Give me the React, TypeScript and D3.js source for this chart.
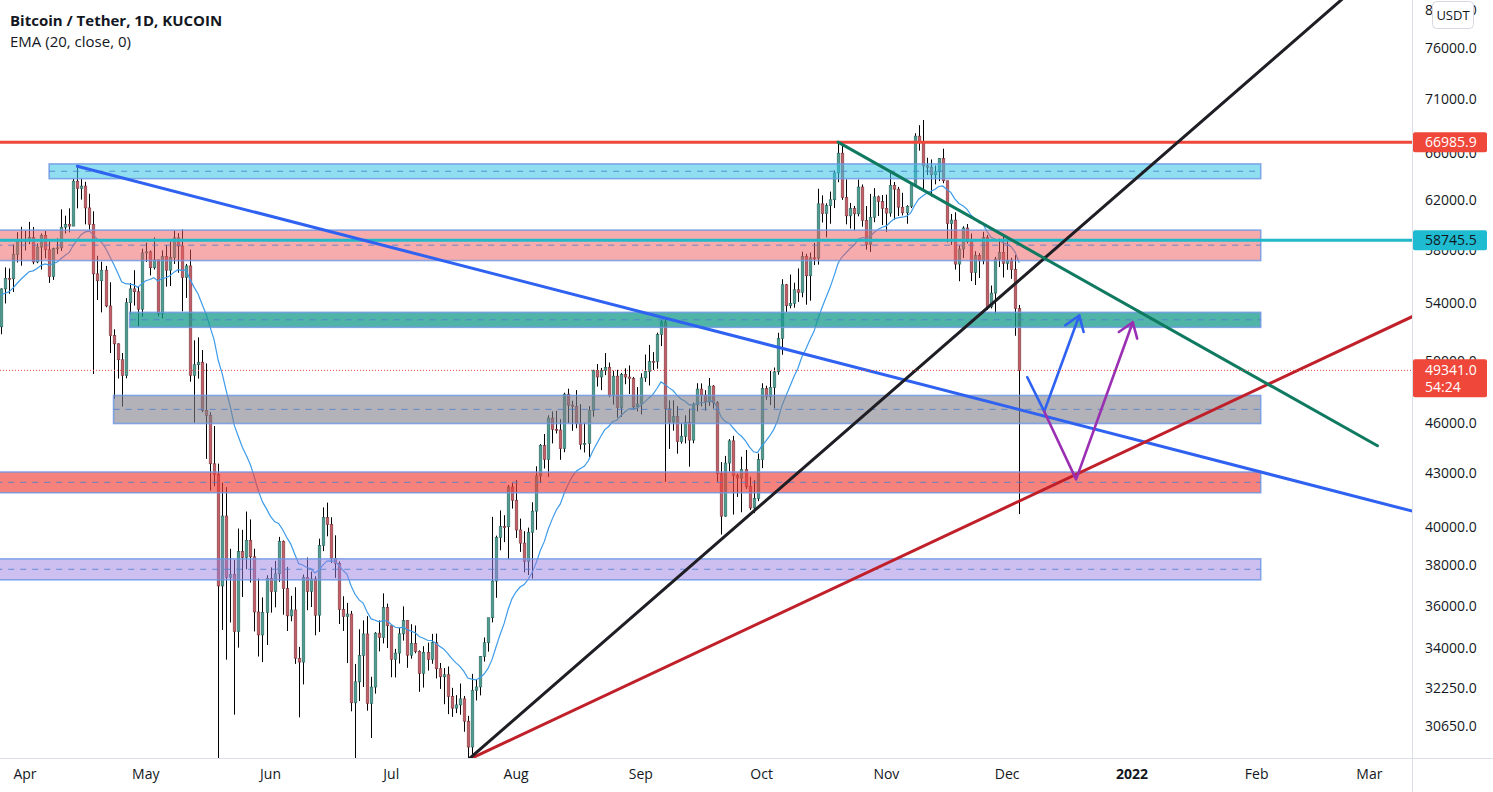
import React, { useEffect, useRef } from 'react';
import * as d3 from 'd3';

const W = 1493;
const H = 792;
const PLOT_R = 1412;
const PLOT_B = 758;
const FONT = '"Open Sans", "Liberation Sans", sans-serif';

// daily candles [open, high, low, close], first day 2021-03-26
const firstDay = '2021-03-26';
const mar21 = [
  [52303, 55073, 51787, 55031], [55031, 56640, 53967, 55820], [55820, 56559, 54677, 55777],
  [55777, 58405, 54800, 57628], [57628, 59368, 57011, 58730], [58730, 59800, 56769, 58741],
];
const apr21 = [
  [58741, 59490, 57935, 58720], [58720, 60200, 58428, 58950], [58950, 59791, 56880, 57051],
  [57051, 58492, 56956, 58202], [58202, 59272, 56478, 59129], [59129, 59475, 57333, 57991],
  [57991, 58650, 55473, 55953], [55953, 58153, 55700, 58077], [58077, 58894, 57654, 58142],
  [58142, 61217, 57900, 59770], [59770, 60700, 59266, 60007], [60007, 61300, 59360, 59860],
  [59860, 63777, 59860, 63575], [63575, 64854, 61301, 62959], [62959, 63800, 62020, 63159],
  [63159, 63520, 60000, 61334], [61334, 62506, 59580, 60006], [60006, 61057, 49100, 56150],
  [56150, 57526, 54221, 55633], [55633, 57076, 53329, 56425], [56425, 56757, 53695, 53787],
  [53787, 55521, 50500, 51690], [51690, 52130, 47500, 51125], [51125, 51167, 48805, 50047],
  [50047, 50500, 47000, 49004], [49004, 54356, 48817, 54021], [54021, 55460, 53222, 55033],
  [55033, 56428, 53813, 54824], [54824, 55195, 52330, 53556], [53556, 58075, 53013, 57750],
];
const may21 = [
  [57750, 58550, 57052, 57828], [57828, 57941, 56035, 56610], [56610, 58963, 56478, 57213],
  [57213, 57214, 53046, 53241], [53241, 57939, 52900, 57473], [57473, 58360, 55200, 56428],
  [56428, 58650, 55241, 57380], [57380, 59500, 56900, 58928], [58928, 59300, 56235, 58280],
  [58280, 59592, 53400, 55883], [55883, 56900, 54370, 56750], [56750, 58000, 48600, 49007],
  [49007, 51367, 46000, 49716], [49716, 51570, 48800, 49880], [49880, 50700, 46650, 46760],
  [46760, 49800, 43825, 46456], [46456, 46650, 42000, 43538], [43538, 45800, 42250, 42910],
  [42910, 43546, 28500, 36964], [36964, 42451, 34850, 40596], [40596, 42200, 33488, 37395],
  [37395, 38850, 35200, 37536], [37536, 38270, 31111, 34771], [34771, 39920, 34031, 38705],
  [38705, 39850, 36419, 38403], [38403, 40841, 37800, 39295], [39295, 40411, 37134, 38436],
  [38436, 38856, 34779, 35698], [35698, 37338, 33632, 34617], [34617, 36400, 33379, 35678],
  [35678, 37499, 34153, 37333],
];
const jun21 = [
  [37333, 37894, 35666, 36694], [36694, 38225, 35920, 37569], [37569, 39476, 37170, 39246],
  [39246, 39289, 35567, 36829], [36829, 37925, 34800, 35514], [35514, 36480, 35258, 35796],
  [35796, 36900, 33300, 33552], [33552, 34068, 31000, 33380], [33380, 37534, 32396, 37389],
  [37389, 38399, 35782, 36693], [36693, 37680, 35936, 37313], [37313, 37448, 34600, 35545],
  [35545, 39380, 34757, 39020], [39020, 41064, 38730, 40516], [40516, 41330, 39506, 40144],
  [40144, 40527, 38116, 38349], [38349, 39559, 37365, 38092], [38092, 38202, 35129, 35819],
  [35819, 36457, 34803, 35483], [35483, 36137, 33336, 35600], [35600, 35750, 31251, 31608],
  [31608, 33298, 28800, 32509], [32509, 34881, 31683, 33678], [33678, 35298, 32286, 34663],
  [34663, 35500, 31275, 31584], [31584, 32730, 30151, 32283], [32283, 34749, 32000, 34700],
  [34700, 35297, 33862, 34494], [34494, 36600, 34226, 35911], [35911, 36100, 34017, 35045],
];
const jul21 = [
  [35045, 35057, 32711, 33504], [33504, 33977, 32699, 33786], [33786, 34945, 33316, 34669],
  [34669, 35967, 34357, 35287], [35287, 35293, 33125, 33690], [33690, 35118, 33532, 34220],
  [34220, 35059, 33777, 33862], [33862, 33911, 32077, 32875], [32875, 34100, 32261, 33815],
  [33815, 34262, 33004, 33502], [33502, 34666, 33306, 34259], [34259, 34678, 32658, 33086],
  [33086, 33340, 32202, 32729], [32729, 33114, 31550, 32820], [32820, 33185, 31133, 31880],
  [31880, 32249, 31020, 31383], [31383, 31935, 31175, 31520], [31520, 32435, 31108, 31778],
  [31778, 31899, 30407, 30839], [30839, 31063, 29278, 29790], [29790, 32858, 29482, 32144],
  [32144, 32591, 31708, 32287], [32287, 33650, 31924, 33634], [33634, 34500, 33401, 34258],
  [34258, 35398, 33851, 35425], [35425, 40550, 35205, 37208], [37208, 39542, 36383, 39456],
  [39456, 40900, 38772, 40019], [40019, 40640, 39200, 40016], [40016, 42316, 38313, 42206],
  [42206, 42448, 41000, 41461],
];
const aug21 = [
  [41461, 42599, 39422, 39845], [39845, 40456, 38690, 39147], [39147, 39780, 37642, 38207],
  [38207, 39969, 37508, 39723], [39723, 41350, 37332, 40862], [40862, 43392, 39853, 42836],
  [42836, 44700, 42446, 44614], [44614, 45310, 43261, 43792], [43792, 46454, 42779, 46285],
  [46285, 46700, 44742, 45595], [45595, 46743, 45341, 45553], [45553, 46218, 43770, 44428],
  [44428, 47886, 44217, 47793], [47793, 48144, 45971, 47097], [47097, 47372, 45500, 47019],
  [47019, 48053, 45660, 45936], [45936, 47160, 44376, 44686], [44686, 46000, 44203, 44741],
  [44741, 47033, 43927, 46763], [46763, 49382, 46370, 49339], [49339, 49757, 48285, 48905],
  [48905, 49500, 48050, 49321], [49321, 50500, 49028, 49546], [49546, 49860, 47600, 47707],
  [47707, 49320, 47136, 48960], [48960, 49380, 46315, 46942], [46942, 49170, 46363, 49058],
  [49058, 49475, 48431, 48902], [48902, 49666, 47801, 48806], [48806, 48906, 46853, 46985],
  [46985, 48250, 46700, 47166],
];
const sep21 = [
  [47166, 49150, 46512, 48847], [48847, 50400, 48584, 49270], [49270, 51052, 48349, 49941],
  [49941, 50558, 49370, 49937], [49937, 51900, 49450, 51756], [51756, 52780, 50970, 52663],
  [52663, 52920, 42500, 46863], [46863, 47400, 44412, 46048], [46048, 47399, 45513, 46395],
  [46395, 47033, 44132, 44850], [44850, 45989, 44730, 45173], [45173, 46460, 44742, 46026],
  [46026, 46876, 43370, 44940], [44940, 47250, 44750, 47111], [47111, 48500, 46700, 48121],
  [48121, 48486, 47012, 47737], [47737, 48050, 46750, 47300], [47300, 48843, 47050, 48314],
  [48314, 48373, 46876, 47248], [47248, 47347, 42500, 42961], [42961, 43639, 39600, 40588],
  [40588, 44000, 40555, 43579], [43579, 45000, 43096, 44896], [44896, 45200, 40675, 42848],
  [42848, 42966, 41646, 42717], [42717, 43950, 40800, 43208], [43208, 44350, 42098, 42235],
  [42235, 42790, 40931, 41034], [41034, 42590, 40753, 41564], [41564, 44141, 41410, 43790],
];
const oct21 = [
  [43790, 48495, 43283, 48165], [48165, 48336, 47430, 47657], [47657, 49300, 47100, 48233],
  [48233, 49530, 46891, 49245], [49245, 51887, 49057, 51493], [51493, 55750, 50382, 55340],
  [55340, 55400, 53357, 53805], [53805, 56100, 53617, 53967], [53967, 55489, 53661, 54968],
  [54968, 56561, 54080, 54772], [54772, 57839, 54415, 57485], [57485, 57680, 53879, 56005],
  [56005, 57777, 54167, 57368], [57368, 58532, 56818, 57347], [57347, 62933, 56850, 61672],
  [61672, 62378, 60150, 60875], [60875, 61718, 58963, 61528], [61528, 62695, 60048, 62010],
  [62010, 64486, 61322, 64280], [64280, 67000, 63481, 66001], [66001, 66639, 62000, 62193],
  [62193, 63732, 60000, 60688], [60688, 61747, 59668, 61286], [61286, 61500, 59510, 60852],
  [60852, 63710, 60650, 63078], [63078, 63293, 59817, 60328], [60328, 61496, 58000, 58413],
  [58413, 62499, 57820, 60575], [60575, 62980, 60174, 62253], [62253, 62359, 60673, 61859],
  [61859, 62405, 59945, 61300],
];
const nov21 = [
  [61300, 62437, 59405, 60911], [60911, 64270, 60624, 63219], [63219, 63500, 60382, 62896],
  [62896, 63086, 60677, 61395], [61395, 62595, 60721, 60937], [60937, 61560, 60050, 61470],
  [61470, 63286, 61322, 63273], [63273, 67789, 63273, 67525], [67525, 68524, 66222, 66947],
  [66947, 69000, 62822, 64882], [64882, 65600, 64100, 64774], [64774, 65450, 62278, 64122],
  [64122, 64915, 63303, 64380], [64380, 65550, 63576, 65519], [65519, 66401, 63400, 63606],
  [63606, 63617, 58574, 60058], [60058, 60840, 58373, 60344], [60344, 60976, 56474, 56891],
  [56891, 58320, 55600, 58052], [58052, 59845, 57353, 59707], [59707, 60029, 58487, 58622],
  [58622, 59266, 55610, 56247], [56247, 57875, 55317, 57541], [57541, 57735, 55837, 57138],
  [57138, 59398, 56874, 58960], [58960, 59150, 53500, 53726], [53726, 55280, 53610, 54721],
  [54721, 57445, 53256, 57274], [57274, 58865, 56666, 57776], [57776, 59176, 55875, 56950],
];
const dec21 = [
  [56950, 59053, 56458, 57184], [57184, 57375, 55777, 56480], [56480, 57600, 51680, 53601],
  [53601, 53859, 40700, 49341],
];

// EMA(20) value before the first visible candle
const emaSeed = 54550;

const priceTicks = [80000, 76000, 71000, 66000, 62000, 58000, 54000, 50000, 46000, 43000, 40000, 38000, 36000, 34000, 32250, 30650];

// horizontal levels
const redLevel = 66985.9;
const cyanLevel = 58745.5;
const lastPrice = 49341.0;
const countdown = '54:24';

// rectangle zones
const zoneTop = [65060, 59540, 53330, 47710, 43060, 38330];
const zoneBottom = [63790, 57160, 52270, 45950, 41880, 37270];
const zoneStart = ['2021-04-07', '2021-03-01', '2021-04-27', '2021-04-23', '2021-03-01', '2021-03-01'];
const zoneEnd = '2022-02-02';
const zoneFill = ['#33c5e4', '#ee5a5a', '#169b8b', '#7f7f89', '#f03f37', '#9b81e1'];
const zoneOpacity = [0.55, 0.5, 0.75, 0.6, 0.65, 0.5];

// trend lines [date, price]
const blueTrend: [string, number][] = [['2021-04-14', 64854], ['2021-09-07', 52920]];
const blackTrend: [string, number][] = [['2021-07-20', 29278], ['2021-12-01', 54900]];
const redTrend: [string, number][] = [['2021-07-20', 29278], ['2021-12-01', 41100]];
const greenTrend: [string, number][] = [['2021-10-20', 66985.9], ['2022-03-03', 44600]];
const blueArrow: [string, number][] = [['2021-12-06', 48890], ['2021-12-10T05:00Z', 46700], ['2021-12-18T22:00Z', 53100]];
const purpleArrow: [string, number][] = [['2021-12-10T05:00Z', 46700], ['2021-12-18T03:00Z', 42640], ['2022-01-01T05:00Z', 52630]];

const toDate = (s: string) => new Date(s.length === 10 ? s + 'T00:00:00Z' : s);

export default function App() {
  const svgRef = useRef<SVGSVGElement>(null);

  useEffect(() => {
    if (!svgRef.current) return;
    const svg = d3.select(svgRef.current);
    svg.selectAll('*').remove();

    const rows = [...mar21, ...apr21, ...may21, ...jun21, ...jul21, ...aug21, ...sep21, ...oct21, ...nov21, ...dec21];
    const t0 = toDate(firstDay).getTime();
    const candles = rows.map((r, i) => ({
      date: new Date(t0 + i * 86400000),
      o: r[0], h: r[1], l: r[2], c: r[3],
    }));

    const x = d3.scaleUtc()
      .domain([toDate('2021-04-01'), toDate('2022-03-01')])
      .range([25, 1369.4]);
    const y = d3.scaleLog()
      .domain([29356, 80000])
      .range([PLOT_B, 9.6]);

    svg.append('rect').attr('width', W).attr('height', H).attr('fill', '#ffffff');

    const defs = svg.append('defs');
    defs.append('clipPath').attr('id', 'plot-clip')
      .append('rect').attr('x', 0).attr('y', 0).attr('width', PLOT_R).attr('height', PLOT_B);

    const plot = svg.append('g').attr('clip-path', 'url(#plot-clip)');

    // candles
    const cg = plot.append('g');
    const bw = 2.6;
    candles.forEach(d => {
      const cx = Math.round(x(d.date)) + 0.5;
      const up = d.c >= d.o;
      cg.append('line')
        .attr('x1', cx).attr('x2', cx)
        .attr('y1', y(d.h)).attr('y2', y(d.l))
        .attr('stroke', '#000').attr('stroke-width', 1);
      const top = y(Math.max(d.o, d.c));
      const bot = y(Math.min(d.o, d.c));
      cg.append('rect')
        .attr('x', cx - bw / 2).attr('y', top)
        .attr('width', bw).attr('height', Math.max(1, bot - top))
        .attr('fill', up ? '#4f9d92' : '#c45f67')
        .attr('stroke', up ? '#2e6a62' : '#7d3a40')
        .attr('stroke-width', 0.6);
    });

    // EMA 20
    const k = 2 / 21;
    let prev = emaSeed;
    const ema = candles.map(d => {
      prev = prev + k * (d.c - prev);
      return { date: d.date, v: prev };
    });
    plot.append('path')
      .datum(ema)
      .attr('fill', 'none')
      .attr('stroke', '#3d9be9')
      .attr('stroke-width', 1.2)
      .attr('d', d3.line<{ date: Date; v: number }>().x(d => x(d.date)).y(d => y(d.v)));

    // zones
    const zg = plot.append('g');
    zoneTop.forEach((tp, i) => {
      const x0 = x(toDate(zoneStart[i]));
      const x1 = x(toDate(zoneEnd));
      const y0 = y(tp);
      const y1 = y(zoneBottom[i]);
      zg.append('rect')
        .attr('x', x0).attr('y', y0).attr('width', x1 - x0).attr('height', y1 - y0)
        .attr('fill', zoneFill[i]).attr('fill-opacity', zoneOpacity[i])
        .attr('stroke', '#6d96e3').attr('stroke-opacity', 0.8).attr('stroke-width', 1.6);
      const ym = y((tp + zoneBottom[i]) / 2);
      zg.append('line')
        .attr('x1', x0).attr('x2', x1).attr('y1', ym).attr('y2', ym)
        .attr('stroke', '#4f7fcf').attr('stroke-opacity', 0.85)
        .attr('stroke-width', 1).attr('stroke-dasharray', '6 6');
    });

    // horizontal levels
    plot.append('line')
      .attr('x1', 0).attr('x2', PLOT_R).attr('y1', y(redLevel)).attr('y2', y(redLevel))
      .attr('stroke', '#f0473b').attr('stroke-width', 3);
    plot.append('line')
      .attr('x1', 0).attr('x2', PLOT_R).attr('y1', y(cyanLevel)).attr('y2', y(cyanLevel))
      .attr('stroke', '#22b8c8').attr('stroke-width', 3);

    // trend lines
    const px = (p: [string, number]) => [x(toDate(p[0])), y(p[1])] as [number, number];
    const ray = (pts: [string, number][], color: string) => {
      const a = px(pts[0]);
      const b = px(pts[1]);
      const slope = (b[1] - a[1]) / (b[0] - a[0]);
      const xe = PLOT_R + 5;
      plot.append('line')
        .attr('x1', a[0]).attr('y1', a[1])
        .attr('x2', xe).attr('y2', a[1] + slope * (xe - a[0]))
        .attr('stroke', color).attr('stroke-width', 3).attr('stroke-linecap', 'round');
    };
    ray(blueTrend, '#2f62f0');
    ray(redTrend, '#c0202a');
    ray(blackTrend, '#1e1e24');
    const g0 = px(greenTrend[0]);
    const g1 = px(greenTrend[1]);
    plot.append('line')
      .attr('x1', g0[0]).attr('y1', g0[1]).attr('x2', g1[0]).attr('y2', g1[1])
      .attr('stroke', '#0f7a60').attr('stroke-width', 3).attr('stroke-linecap', 'round');

    // arrows
    const arrow = (pts: [string, number][], color: string) => {
      const p = pts.map(px);
      plot.append('path')
        .attr('d', d3.line()(p))
        .attr('fill', 'none').attr('stroke', color).attr('stroke-width', 2.6)
        .attr('stroke-linejoin', 'round').attr('stroke-linecap', 'round');
      const tip = p[p.length - 1];
      const from = p[p.length - 2];
      const ang = Math.atan2(from[1] - tip[1], from[0] - tip[0]);
      const len = 17;
      const spread = 35 * Math.PI / 180;
      const head: [number, number][] = [
        [tip[0] + len * Math.cos(ang + spread), tip[1] + len * Math.sin(ang + spread)],
        tip,
        [tip[0] + len * Math.cos(ang - spread), tip[1] + len * Math.sin(ang - spread)],
      ];
      plot.append('path')
        .attr('d', d3.line()(head))
        .attr('fill', 'none').attr('stroke', color).attr('stroke-width', 2.6)
        .attr('stroke-linejoin', 'round').attr('stroke-linecap', 'round');
    };
    arrow(blueArrow, '#2f62f0');
    arrow(purpleArrow, '#9a2fb3');

    // last price dotted line
    plot.append('line')
      .attr('x1', 0).attr('x2', PLOT_R).attr('y1', y(lastPrice)).attr('y2', y(lastPrice))
      .attr('stroke', '#e8413a').attr('stroke-width', 1).attr('stroke-dasharray', '1 2');

    // separators
    svg.append('line').attr('x1', PLOT_R + 0.5).attr('x2', PLOT_R + 0.5).attr('y1', 0).attr('y2', H)
      .attr('stroke', '#dcdfe6').attr('stroke-width', 1);
    svg.append('line').attr('x1', 0).attr('x2', W).attr('y1', PLOT_B + 0.5).attr('y2', PLOT_B + 0.5)
      .attr('stroke', '#dcdfe6').attr('stroke-width', 1);

    // price axis
    const axisG = svg.append('g').attr('font-family', FONT).attr('font-size', 14).attr('fill', '#131722');
    priceTicks.forEach(v => {
      axisG.append('text')
        .attr('x', 1425).attr('y', y(v)).attr('dy', '0.36em')
        .text(v.toFixed(1));
    });

    const tag = (v: number, bg: string, fg: string) => {
      const yy = y(v);
      svg.append('rect').attr('x', PLOT_R + 1).attr('y', yy - 10).attr('width', 74).attr('height', 20)
        .attr('rx', 2).attr('fill', bg);
      svg.append('text').attr('x', 1425).attr('y', yy).attr('dy', '0.36em')
        .attr('font-family', FONT).attr('font-size', 14).attr('fill', fg)
        .text(v.toFixed(1));
    };
    tag(redLevel, '#f0473b', '#ffffff');
    tag(cyanLevel, '#1fbbd0', '#131722');

    const ly = y(lastPrice);
    svg.append('rect').attr('x', PLOT_R + 1).attr('y', ly - 11).attr('width', 74).attr('height', 38)
      .attr('rx', 2).attr('fill', '#f0473b');
    svg.append('text').attr('x', 1425).attr('y', ly).attr('dy', '0.36em')
      .attr('font-family', FONT).attr('font-size', 14).attr('fill', '#ffffff')
      .text(lastPrice.toFixed(1));
    svg.append('text').attr('x', 1425).attr('y', ly + 17).attr('dy', '0.36em')
      .attr('font-family', FONT).attr('font-size', 14).attr('fill', '#ffffff')
      .text(countdown);

    // currency badge
    svg.append('rect').attr('x', 1432.5).attr('y', 1.5).attr('width', 41).attr('height', 27)
      .attr('rx', 4).attr('fill', '#ffffff').attr('stroke', '#d6d9e0');
    svg.append('text').attr('x', 1453).attr('y', 15).attr('dy', '0.36em')
      .attr('text-anchor', 'middle').attr('font-family', FONT).attr('font-size', 13)
      .attr('fill', '#131722').text('USDT');

    // time axis
    const months = d3.utcMonth.range(toDate('2021-04-01'), toDate('2022-03-02'));
    months.forEach(m => {
      const isYear = m.getUTCMonth() === 0;
      svg.append('text')
        .attr('x', x(m)).attr('y', 774).attr('dy', '0.36em')
        .attr('text-anchor', 'middle')
        .attr('font-family', FONT).attr('font-size', 14)
        .attr('font-weight', isYear ? 700 : 400)
        .attr('fill', '#131722')
        .text(isYear ? d3.utcFormat('%Y')(m) : d3.utcFormat('%b')(m));
    });

    // legend
    svg.append('text').attr('x', 10).attr('y', 26)
      .attr('font-family', FONT).attr('font-size', 15).attr('font-weight', 700).attr('fill', '#131722')
      .text('Bitcoin / Tether, 1D, KUCOIN');
    svg.append('text').attr('x', 10).attr('y', 47)
      .attr('font-family', FONT).attr('font-size', 15).attr('fill', '#131722')
      .text('EMA (20, close, 0)');
  }, []);

  return (
    <svg
      ref={svgRef}
      width={W}
      height={H}
      style={{ position: 'fixed', left: 0, top: 0, display: 'block' }}
    />
  );
}
